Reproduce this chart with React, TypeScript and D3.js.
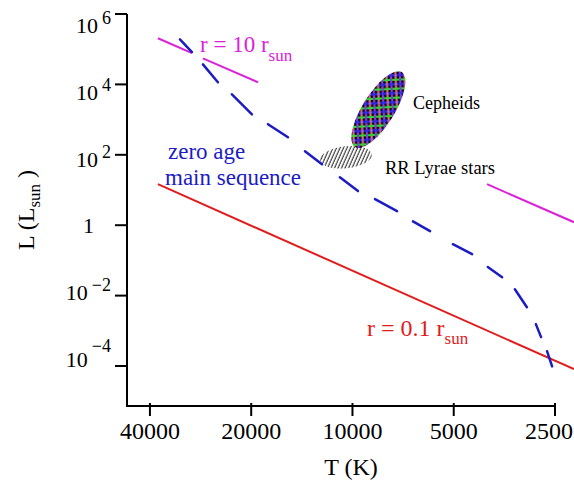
import React from "react";
import * as d3 from "d3";

const width = 574;
const height = 482;

const tempTicks = [40000, 20000, 10000, 5000, 2500];
const lumTickExps = [6, 4, 2, 0, -2, -4];

// zero age main sequence: ends of each dash (T in K, log10 L/Lsun)
const zamsT = [
  32570, 30000, 27830, 25120, 22820, 19900, 17830, 15550, 13840, 12320, 10900,
  9630, 8570, 7370, 6610, 5880, 5030, 4410, 3960, 3590, 3290, 3030, 2850, 2750,
  2640, 2550,
];
const zamsLogL = [
  5.28, 4.92, 4.57, 4.06, 3.72, 3.15, 2.87, 2.5, 2.1, 1.73, 1.36, 0.97, 0.74,
  0.4, 0.11, -0.17, -0.54, -0.82, -1.19, -1.48, -1.82, -2.33, -2.81, -3.18,
  -3.58, -4.01,
];

// r = 0.1 r_sun
const smallRadiusT = [37870, 2195];
const smallRadiusLogL = [1.165, -4.09];

// r = 10 r_sun, only the visible pieces
const bigRadiusT = [
  [37870, 30000],
  [27830, 19100],
  [3980, 2195],
];
const bigRadiusLogL = [
  [5.31, 4.89],
  [4.74, 4.06],
  [1.165, 0.085],
];

// instability strip regions
const cepheidT = [7130, 9830];
const cepheidLogL = [4.35, 2.22];
const rrLyraeT = [12490, 8750];
const rrLyraeLogL = [1.93];

const serif = "'Liberation Serif', 'Times New Roman', serif";
const blue = "#1c1cc4";
const red = "#e21b1b";
const magenta = "#dc22d8";

const margin = { top: 14, right: 19, bottom: 76, left: 127 };

export default function App() {
  const x = d3
    .scaleLog()
    .domain([46800, 2500])
    .range([margin.left, width - margin.right]);
  const y = d3
    .scaleLinear()
    .domain([-5.136, 6])
    .range([height - margin.bottom, margin.top]);
  // the exponent labels sit a little off their ticks in the original
  const yLabel = d3.scaleLinear().domain([6, -4]).range([33, 367]);

  const line = d3
    .line<[number, number]>()
    .x((d) => x(d[0]))
    .y((d) => y(d[1]));

  const dashes: [number, number][][] = [];
  for (let i = 0; i + 1 < zamsT.length; i += 2) {
    dashes.push([
      [zamsT[i], zamsLogL[i]],
      [zamsT[i + 1], zamsLogL[i + 1]],
    ]);
  }

  const cx1 = x(cepheidT[0]);
  const cy1 = y(cepheidLogL[0]);
  const cx2 = x(cepheidT[1]);
  const cy2 = y(cepheidLogL[1]);
  const cepRx = Math.hypot(cx2 - cx1, cy2 - cy1) / 2;
  const cepAngle = (Math.atan2(cy1 - cy2, cx1 - cx2) * 180) / Math.PI;

  const rrX1 = x(rrLyraeT[0]);
  const rrX2 = x(rrLyraeT[1]);
  const rrCy = y(rrLyraeLogL[0]);

  const x0 = x.range()[0];
  const x1 = x.range()[1];
  const yBottom = y.range()[0];
  const yTop = y.range()[1];

  return (
    <div style={{ position: "absolute", left: 0, top: 0 }}>
      <svg width={width} height={height} style={{ display: "block", background: "#fff" }}>
        <defs>
          <pattern
            id="weave"
            width={9}
            height={9}
            patternUnits="userSpaceOnUse"
            patternTransform="rotate(-35)"
          >
            <rect width={9} height={9} fill="#000" />
            <rect x={0} y={0.5} width={9} height={2.2} fill="#e2708c" />
            <rect x={0} y={5} width={9} height={2.2} fill="#8a3ae0" />
            <rect x={0.5} y={0} width={2.2} height={9} fill="#2a2ae8" />
            <rect x={5} y={0} width={2.2} height={9} fill="#2ed62e" />
            <rect x={0.5} y={0.5} width={2.2} height={2.2} fill="#e2708c" />
            <rect x={5} y={5} width={2.2} height={2.2} fill="#8a3ae0" />
          </pattern>
          <pattern
            id="hatch"
            width={3.2}
            height={10}
            patternUnits="userSpaceOnUse"
            patternTransform="rotate(30)"
          >
            <line x1={1} y1={0} x2={1} y2={10} stroke="#333" strokeWidth={1.1} />
          </pattern>
        </defs>

        {/* axes */}
        <g stroke="#000" strokeWidth={2} fill="none">
          <line x1={x0} y1={yTop} x2={x0} y2={yBottom + 1} />
          <line x1={x0 - 1} y1={yBottom} x2={x1 + 1} y2={yBottom} />
          {lumTickExps.map((e) => (
            <line key={e} x1={x0 - 12} x2={x0} y1={y(e)} y2={y(e)} />
          ))}
          {tempTicks.map((t) => (
            <line key={t} x1={x(t)} x2={x(t)} y1={yBottom - 3} y2={yBottom + 10} />
          ))}
        </g>

        <g fontFamily={serif} fill="#000">
          {lumTickExps.map((e) =>
            e === 0 ? (
              <text key={e} x={94} y={yLabel(e)} fontSize={22} textAnchor="end">
                1
              </text>
            ) : (
              <text key={e} x={111} y={yLabel(e)} fontSize={22} textAnchor="end">
                10
                <tspan dx={4} dy={e === -4 ? -15 : -9} fontSize={18}>
                  {e < 0 ? `\u2212${-e}` : e}
                </tspan>
              </text>
            )
          )}
          {tempTicks.map((t) => (
            <text
              key={t}
              x={Math.min(x(t), 549)}
              y={439}
              fontSize={24}
              textAnchor="middle"
            >
              {t}
            </text>
          ))}
          <text x={351} y={475} fontSize={24} textAnchor="middle">
            T (K)
          </text>
          <text
            transform="translate(34, 210) rotate(-90)"
            fontSize={24}
            textAnchor="middle"
          >
            L (L
            <tspan fontSize={17} dy={6}>
              sun
            </tspan>
            <tspan dy={-6}> )</tspan>
          </text>
        </g>

        {/* radius lines */}
        <path
          d={line(smallRadiusT.map((t, i) => [t, smallRadiusLogL[i]]) as [number, number][]) || ""}
          stroke={red}
          strokeWidth={2}
          fill="none"
        />
        {bigRadiusT.map((seg, s) => (
          <path
            key={s}
            d={line(seg.map((t, i) => [t, bigRadiusLogL[s][i]]) as [number, number][]) || ""}
            stroke={magenta}
            strokeWidth={2}
            fill="none"
          />
        ))}

        {/* regions */}
        <ellipse
          cx={(rrX1 + rrX2) / 2}
          cy={rrCy}
          rx={Math.abs(rrX2 - rrX1) / 2}
          ry={11}
          fill="url(#hatch)"
          transform={`rotate(-6, ${(rrX1 + rrX2) / 2}, ${rrCy})`}
        />
        <ellipse
          cx={(cx1 + cx2) / 2}
          cy={(cy1 + cy2) / 2}
          rx={cepRx}
          ry={16}
          fill="url(#weave)"
          transform={`rotate(${cepAngle}, ${(cx1 + cx2) / 2}, ${(cy1 + cy2) / 2})`}
        />

        {/* zero age main sequence */}
        {dashes.map((d, i) => (
          <path
            key={i}
            d={line(d) || ""}
            stroke={blue}
            strokeWidth={2.5}
            strokeLinecap="round"
            fill="none"
          />
        ))}

        {/* annotations */}
        <g fontFamily={serif}>
          <text x={168} y={159} fontSize={23} fill={blue}>
            zero age
          </text>
          <text x={165} y={185} fontSize={23} fill={blue}>
            main sequence
          </text>
          <text x={413} y={109} fontSize={18} fill="#000">
            Cepheids
          </text>
          <text x={385} y={174} fontSize={18.5} fill="#000">
            RR Lyrae stars
          </text>
          <text x={200} y={52} fontSize={23} fill={magenta}>
            r = 10 r
            <tspan fontSize={17} dy={9}>
              sun
            </tspan>
          </text>
          <text x={367} y={336} fontSize={24} fill={red}>
            r = 0.1 r
            <tspan fontSize={17} dy={8}>
              sun
            </tspan>
          </text>
        </g>
      </svg>
    </div>
  );
}
